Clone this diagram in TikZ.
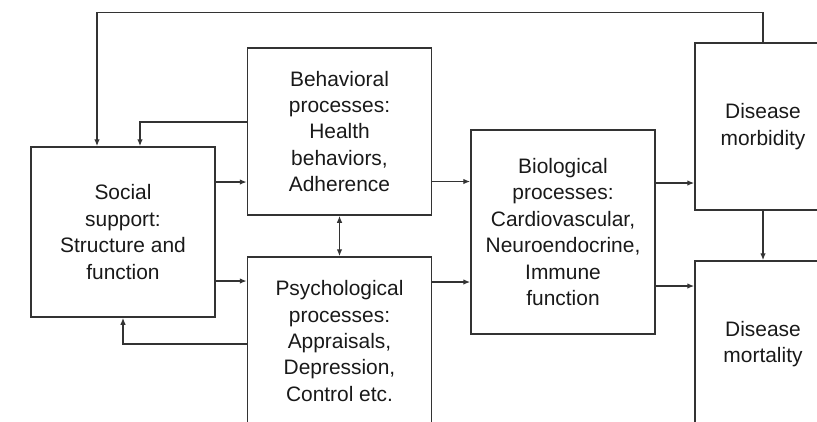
\documentclass[tikz,border=0pt]{standalone}
\usepackage{fontspec}
\setmainfont{Liberation Sans}
\usetikzlibrary{arrows.meta}
\begin{document}
\begin{tikzpicture}
  [x=1bp,y=-1bp,
   every node/.style={font=\fontsize{21}{26.5}\selectfont,text=black!90},
   box/.style={draw=black!80,line width=1.5pt,align=center,inner sep=0pt},
   wide/.style={box,minimum width=184bp},
   narrow/.style={box,minimum width=136bp},
   arr/.style={draw=black!80,line width=1.3pt,-{Latex[length=7bp,width=5.5bp]}}]

  \useasboundingbox (0,0) rectangle (817,421);
  \clip (0,0) rectangle (817,421);

  \node[wide,minimum height=170bp] (soc) at (123,232) {Social\\support:\\Structure and\\function};
  \node[wide,minimum height=167bp] (beh) at (339.5,131.5) {Behavioral\\processes:\\Health\\behaviors,\\Adherence};
  \node[wide,minimum height=168bp] (psy) at (339.5,341) {Psychological\\processes:\\Appraisals,\\Depression,\\Control etc.};
  \node[wide,minimum height=204bp] (bio) at (563,232) {Biological\\processes:\\Cardiovascular,\\Neuroendocrine,\\Immune\\function};
  \node[narrow,minimum height=167bp] (mbd) at (763,126.5) {Disease\\morbidity};
  \node[narrow,minimum height=166bp] (mrt) at (763,344) {Disease\\mortality};

  % feedback loops
  \draw[arr] (mbd.north) -- ++(0,-30) -| ([xshift=-26bp]soc.north);
  \draw[arr] ([yshift=9.5bp]beh.west) -| ([xshift=17bp]soc.north);
  \draw[arr] ([yshift=-3bp]psy.west) -| (soc.south);

  % forward paths
  \foreach \from/\to/\dy in {soc/beh/50,soc/psy/-49,beh/bio/-50,psy/bio/59,bio/mbd/49,bio/mrt/-54}
    \draw[arr] ([yshift=\dy bp]\from.east) -- ([yshift=\dy bp]\from.east -| \to.west);

  \draw[arr,{Latex[length=7bp,width=5.5bp]}-{Latex[length=7bp,width=5.5bp]}] (beh.south) -- (psy.north);
  \draw[arr] (mbd.south) -- (mrt.north);
\end{tikzpicture}
\end{document}
